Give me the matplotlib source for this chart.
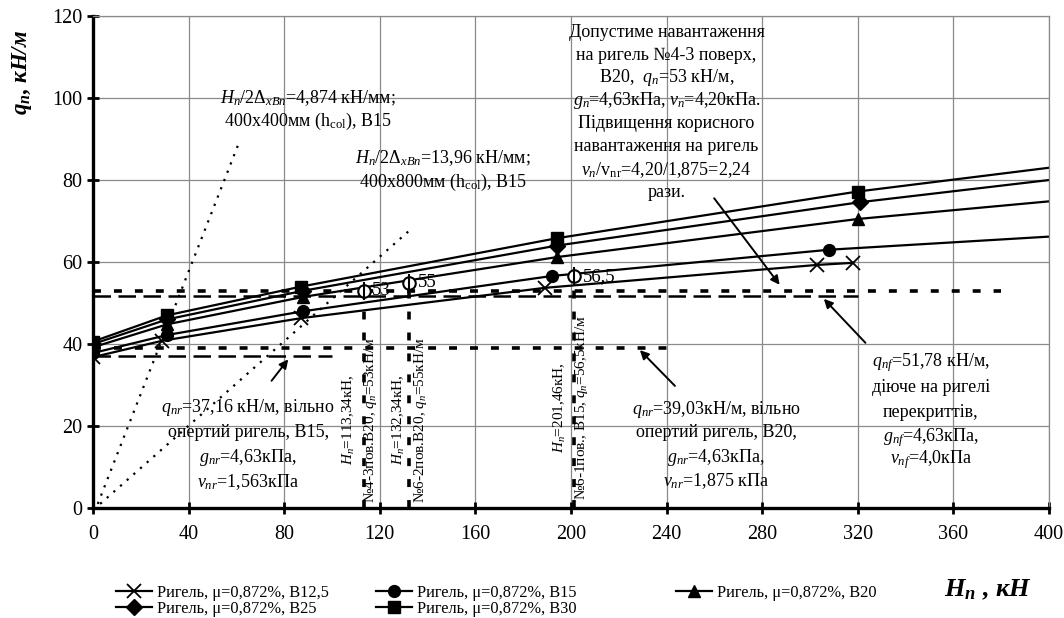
import matplotlib
matplotlib.use('Agg')
import matplotlib.pyplot as plt

plt.rcParams['font.family'] = ['Liberation Serif', 'DejaVu Serif']
plt.rcParams['mathtext.fontset'] = 'custom'
plt.rcParams['mathtext.rm'] = 'Liberation Serif'
plt.rcParams['mathtext.it'] = 'Liberation Serif:italic'
plt.rcParams['mathtext.bf'] = 'Liberation Serif:bold:italic'

# curves H_n (kN) vs q_n (kN/m); last point at 400 is the trend end without marker
h_b125 = [0, 29, 87, 189, 303, 318]
q_b125 = [36.8, 40.8, 46.3, 53.7, 59.3, 59.8]
h_b15 = [0, 31, 88, 192, 308, 400]
q_b15 = [37.8, 42.2, 48.0, 56.6, 63.0, 66.2]
h_b20 = [0, 31, 88, 194, 320, 400]
q_b20 = [39.2, 44.8, 51.5, 61.2, 70.5, 74.8]
h_b25 = [0, 31, 88, 194, 321, 400]
q_b25 = [40.0, 46.0, 53.0, 64.0, 74.6, 80.0]
h_b30 = [0, 31, 87, 194, 320, 400]
q_b30 = [40.6, 47.0, 54.0, 65.8, 77.2, 83.0]

labels = ['Ригель, μ=0,872%, B12,5', 'Ригель, μ=0,872%, B15', 'Ригель, μ=0,872%, B20',
          'Ригель, μ=0,872%, B25', 'Ригель, μ=0,872%, B30']

# horizontal reference loads
ref_q = [53.0, 51.78, 39.03, 37.16]
ref_h_end = [380, 320, 240, 100]

# column points
col_h = [113.34, 132.34, 201.46]
col_q = [53.0, 55.0, 56.5]
col_txt = ['53', '55', '56,5']
col_lbl = ['$H_n$=113,34кН,\n№4-3пов.В20, $q_n$=53кН/м',
           '$H_n$=132,34кН,\n№6-2пов.В20, $q_n$=55кН/м',
           '$H_n$=201,46кН,\n№6-1пов., B15, $q_n$=56,5кН/м']

# stiffness lines H_n/2Δ
stiff1_h = [2, 61]
stiff1_q = [1, 89]
stiff2_h = [3, 133]
stiff2_q = [1, 68]

fig = plt.figure(figsize=(10.64, 6.18), dpi=100)
ax = fig.add_axes([0.0874, 0.178, 0.8985, 0.796])

ax.set_xlim(0, 400)
ax.set_ylim(0, 120)
ax.set_xticks(range(0, 401, 40))
ax.set_yticks(range(0, 121, 20))
ax.grid(True, color='#8a8a8a', lw=0.9)
ax.set_axisbelow(True)
for s in ['left', 'bottom']:
    ax.spines[s].set_linewidth(2.4)
for s in ['top', 'right']:
    ax.spines[s].set_color('#8a8a8a')
    ax.spines[s].set_linewidth(0.9)
ax.tick_params(direction='inout', length=8, width=2, labelsize=14.5)
ax.tick_params(axis='x', pad=8)

# stiffness dotted lines
ax.plot(stiff1_h, stiff1_q, ls=(0, (1, 3)), color='k', lw=1.6)
ax.plot(stiff2_h, stiff2_q, ls=(0, (1, 3)), color='k', lw=1.6)

# horizontal reference lines
ax.plot([0, ref_h_end[0]], [ref_q[0]] * 2, color='k', lw=2.6, ls=(0, (2.2, 3.6)))
ax.plot([0, ref_h_end[1]], [ref_q[1]] * 2, color='k', lw=1.8, ls=(0, (7, 3)))
ax.plot([0, ref_h_end[2]], [ref_q[2]] * 2, color='k', lw=2.6, ls=(0, (2.2, 3.6)))
ax.plot([0, ref_h_end[3]], [ref_q[3]] * 2, color='k', lw=1.8, ls=(0, (7, 3)))

# vertical column lines
for h, q in zip(col_h, col_q):
    ax.plot([h, h], [0, q], color='k', lw=2.6, ls=(0, (2.2, 3.6)))

# curves
mk = dict(color='k', lw=1.6)
l1, = ax.plot(h_b125, q_b125, marker='x', ms=10, mew=1.3, **mk)
l2, = ax.plot(h_b15, q_b15, marker='o', ms=8.5, markevery=slice(0, -1), **mk)
l3, = ax.plot(h_b20, q_b20, marker='^', ms=8.5, markevery=slice(0, -1), **mk)
l4, = ax.plot(h_b25, q_b25, marker='D', ms=8.5, markevery=slice(0, -1), **mk)
l5, = ax.plot(h_b30, q_b30, marker='s', ms=8.5, markevery=slice(0, -1), **mk)

ax.plot(col_h, col_q, 'o', ms=9, mfc='white', mec='k', mew=1.5, zorder=5)
ax.plot(col_h, col_q, '|', ms=13, mec='k', mew=1.5, zorder=6)
for h, q, t in zip(col_h, col_q, col_txt):
    ax.text(h + 3.5, q, t, fontsize=13.5, ha='left', va='center')
for h, t, yc in zip([111.7, 132.6, 200.0], col_lbl, [21.5, 21.5, 24.6]):
    ax.text(h, yc, t, rotation=90, fontsize=11, ha='center', va='center',
            multialignment='center', linespacing=1.35)

fs = 13


def block(x, ys, lines):
    for y, s in zip(ys, lines):
        ax.text(x, y, s, fontsize=fs, ha='center', va='center')


block(90, [100, 94.4], [r'$H_n/2\Delta_{xBn}$=4,874 кН/мм;', r'400x400мм ($\mathrm{h_{col}}$), B15'])
block(146.5, [85.4, 79.5], [r'$H_n/2\Delta_{xBn}$=13,96 кН/мм;', r'400x800мм ($\mathrm{h_{col}}$), B15'])
block(240, [116.1, 110.5, 104.9, 99.3, 93.7, 88.1, 82.5, 76.9],
      ['Допустиме навантаження', 'на ригель №4-3 поверх,', 'B20,  $q_n$=53 кН/м,',
       '$g_n$=4,63кПа, $v_n$=4,20кПа.', 'Підвищення корисного', 'навантаження на ригель',
       r'$v_n$/v$_{\mathrm{nr}}$=4,20/1,875=2,24', 'рази.'])
block(64.9, [24.6, 18.5, 12.4, 6.3],
      ['$q_{nr}$=37,16 кН/м, вільно', 'опертий ригель, B15,', '$g_{nr}$=4,63кПа,', '$v_{nr}$=1,563кПа'])
block(260.7, [24.1, 18.3, 12.4, 6.6],
      ['$q_{nr}$=39,03кН/м, вільно', 'опертий ригель, B20,', '$g_{nr}$=4,63кПа,', '$v_{nr}$=1,875 кПа'])
block(350.6, [35.4, 29.3, 23.2, 17.3, 11.7],
      ['$q_{nf}$=51,78 кН/м,', 'діюче на ригелі', 'перекриттів,', '$g_{nf}$=4,63кПа,', '$v_{nf}$=4,0кПа'])

arw = dict(arrowstyle='-|>', color='k', lw=1.4, mutation_scale=13)
ax.annotate('', xy=(82.4, 36.8), xytext=(74, 30.5), arrowprops=arw)
ax.annotate('', xy=(228, 39), xytext=(244.3, 29.3), arrowprops=arw)
ax.annotate('', xy=(305, 51.5), xytext=(324, 39.8), arrowprops=arw)
ax.annotate('', xy=(288, 53.9), xytext=(259.2, 76.1), arrowprops=arw)

fig.text(22 / 1064, 1 - 72 / 618, r'$\mathbf{q}_\mathbf{n}$, кН/м', rotation=90, fontsize=16.5,
         fontweight='bold', fontstyle='italic', ha='center', va='center')
fig.text(988 / 1064, 1 - 590 / 618, r'$\mathbf{H}_\mathbf{n}$ , кН', fontsize=19,
         fontweight='bold', fontstyle='italic', ha='center', va='center')

lkw = dict(frameon=False, fontsize=11.8, loc='upper left', labelspacing=0.0,
           handlelength=2.2, handletextpad=0.3, borderpad=0, borderaxespad=0)
fig.legend([l1, l4], [labels[0], labels[3]], bbox_to_anchor=(116 / 1064, 1 - 585 / 618), **lkw)
fig.legend([l2, l5], [labels[1], labels[4]], bbox_to_anchor=(376 / 1064, 1 - 585 / 618), **lkw)
fig.legend([l3], [labels[2]], bbox_to_anchor=(676 / 1064, 1 - 585 / 618), **lkw)

fig.savefig('out.png', dpi=100)
